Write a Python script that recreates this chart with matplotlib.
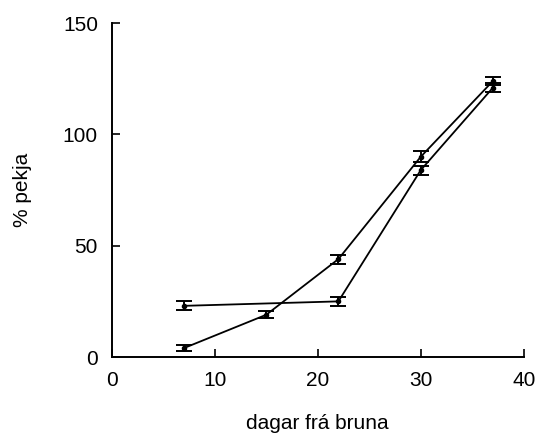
import matplotlib.pyplot as plt

# days after browning
days_a = [7, 15, 22, 30, 37]
pct_a = [4, 19, 44, 90, 124]
err_a = [1.5, 1.5, 2, 2.5, 2]

days_b = [7, 22, 30, 37]
pct_b = [23, 25, 84, 121]
err_b = [2, 2, 2, 2]

x_ticks = [0, 10, 20, 30, 40]
y_ticks = [0, 50, 100, 150]

plt.rcParams['font.family'] = ['Liberation Sans', 'DejaVu Sans']

fig = plt.figure(figsize=(5.4, 4.37), dpi=100)
ax = fig.add_axes([0.207, 0.183, 0.763, 0.764])

ax.errorbar(days_a, pct_a, yerr=err_a, color='black', lw=1.3, marker='o', ms=3,
            capsize=6, capthick=1.4, elinewidth=1.4)
ax.errorbar(days_b, pct_b, yerr=err_b, color='black', lw=1.3, marker='o', ms=3,
            capsize=6, capthick=1.4, elinewidth=1.4)

ax.set_xlim(0, 40)
ax.set_ylim(0, 150)
ax.set_xticks(x_ticks)
ax.set_yticks(y_ticks)
ax.spines['top'].set_visible(False)
ax.spines['right'].set_visible(False)
ax.spines['left'].set_linewidth(1.4)
ax.spines['bottom'].set_linewidth(1.4)
ax.tick_params(direction='in', length=6, width=1.2, labelsize=15, pad=10)
ax.set_xlabel('dagar frá bruna', fontsize=15, labelpad=17)
ax.set_ylabel('% pekja', fontsize=15, labelpad=22)

plt.savefig('out.png', dpi=100)
